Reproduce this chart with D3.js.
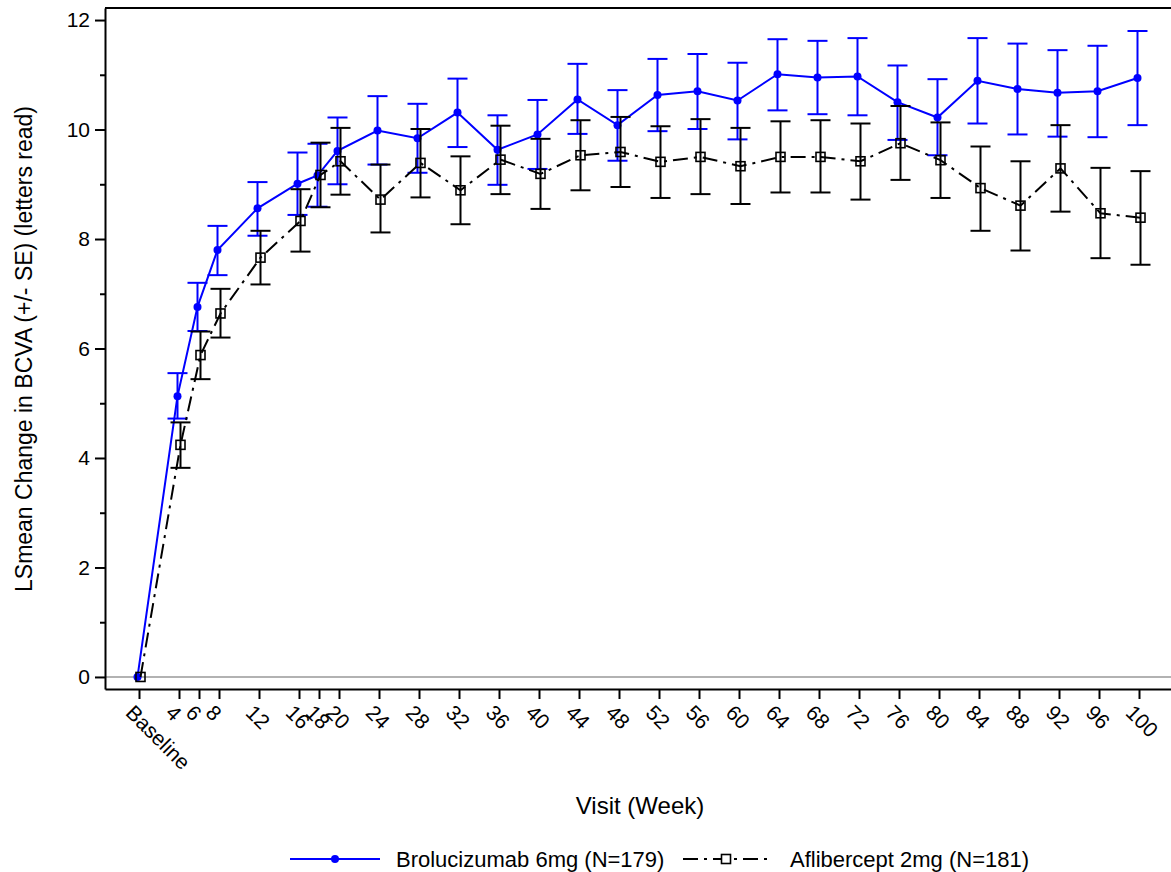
<!DOCTYPE html>
<html>
<head>
<meta charset="utf-8">
<script src="https://cdn.jsdelivr.net/npm/d3@7"></script>
<style>
  body { margin: 0; background: #fff; }
  svg { display: block; font-family: "Liberation Sans", Arial, sans-serif; }
  .axis path, .axis line { stroke: #000; stroke-width: 2; }
  .axis text { font-size: 21px; fill: #000; }
</style>
</head>
<body>
<svg width="1171" height="872"></svg>
<script>
// visit weeks, 0 = baseline
const weeks = [0, 4, 6, 8, 12, 16, 18, 20, 24, 28, 32, 36, 40, 44, 48, 52, 56, 60, 64, 68, 72, 76, 80, 84, 88, 92, 96, 100];

// Brolucizumab 6mg: LSmean, mean - SE, mean + SE
const broMean = [0, 5.13, 6.76, 7.80, 8.56, 9.01, 9.16, 9.61, 9.98, 9.84, 10.31, 9.63, 9.91, 10.55, 10.08, 10.63, 10.70, 10.53, 11.01, 10.95, 10.97, 10.50, 10.22, 10.89, 10.74, 10.67, 10.70, 10.94];
const broLow = [0, 4.72, 6.32, 7.34, 8.06, 8.44, 8.59, 9.00, 9.36, 9.21, 9.68, 8.99, 9.28, 9.92, 9.43, 9.97, 10.01, 9.82, 10.35, 10.28, 10.26, 9.81, 9.53, 10.11, 9.91, 9.87, 9.86, 10.08];
const broHigh = [0, 5.55, 7.20, 8.24, 9.04, 9.58, 9.74, 10.22, 10.61, 10.47, 10.93, 10.26, 10.54, 11.20, 10.72, 11.29, 11.38, 11.22, 11.65, 11.62, 11.67, 11.17, 10.92, 11.67, 11.57, 11.45, 11.53, 11.80];

// Aflibercept 2mg
const aflMean = [0, 4.24, 5.88, 6.64, 7.66, 8.33, 9.17, 9.42, 8.72, 9.39, 8.89, 9.45, 9.19, 9.53, 9.59, 9.41, 9.50, 9.33, 9.50, 9.50, 9.42, 9.75, 9.44, 8.93, 8.61, 9.29, 8.47, 8.39];
const aflLow = [0, 3.82, 5.44, 6.20, 7.17, 7.77, 8.58, 8.81, 8.12, 8.76, 8.27, 8.82, 8.55, 8.89, 8.95, 8.75, 8.82, 8.64, 8.85, 8.85, 8.72, 9.08, 8.75, 8.15, 7.79, 8.50, 7.65, 7.53];
const aflHigh = [0, 4.65, 6.31, 7.09, 8.15, 8.91, 9.76, 10.03, 9.36, 10.01, 9.51, 10.07, 9.83, 10.17, 10.23, 10.06, 10.19, 10.03, 10.15, 10.17, 10.11, 10.43, 10.13, 9.69, 9.42, 10.08, 9.30, 9.24];

const yTicks = [0, 2, 4, 6, 8, 10, 12];
const yMinor = [1, 3, 5, 7, 9, 11];

const series = [
    { name: 'Brolucizumab 6mg (N=179)', color: '#0000ff', dash: null, marker: 'circle', shift: -1.5,
      mean: broMean, low: broLow, high: broHigh },
    { name: 'Aflibercept 2mg (N=181)', color: '#000000', dash: '15,6,3,6', marker: 'square', shift: 1.5,
      mean: aflMean, low: aflLow, high: aflHigh }
];

const svg = d3.select('svg');

const x = d3.scaleLinear().domain([-3.4, 104]).range([105, 1179]);
const y = d3.scaleLinear().domain([-0.22, 12.22]).range([689, 8]);

// top frame line
svg.append('line')
    .attr('x1', 105).attr('x2', 1171)
    .attr('y1', y(12.22)).attr('y2', y(12.22))
    .attr('stroke', '#000').attr('stroke-width', 2);

// zero reference
svg.append('line')
    .attr('x1', 105).attr('x2', 1171)
    .attr('y1', y(0)).attr('y2', y(0))
    .attr('stroke', '#999').attr('stroke-width', 1.5);

// axes
svg.append('g')
    .attr('class', 'axis')
    .attr('transform', 'translate(105,0)')
    .call(d3.axisLeft(y).tickValues(yTicks).tickSize(10).tickSizeOuter(0).tickPadding(5));

svg.append('g')
    .attr('class', 'axis minor')
    .attr('transform', 'translate(105,0)')
    .call(d3.axisLeft(y).tickValues(yMinor).tickSize(5).tickSizeOuter(0).tickFormat(''))
    .select('.domain').remove();

const xAxisG = svg.append('g')
    .attr('class', 'axis')
    .attr('transform', 'translate(0,689)')
    .call(d3.axisBottom(x).tickValues(weeks).tickSize(10).tickSizeOuter(0)
        .tickFormat(d => d === 0 ? 'Baseline' : d));

xAxisG.selectAll('.tick text')
    .attr('text-anchor', 'start')
    .attr('dy', null)
    .attr('y', 0)
    .attr('transform', 'translate(-15,25) rotate(45)');

// axis labels
svg.append('text')
    .attr('x', 640).attr('y', 814)
    .attr('text-anchor', 'middle')
    .attr('font-size', 24)
    .text('Visit (Week)');

svg.append('text')
    .attr('transform', 'translate(32,349) rotate(-90)')
    .attr('text-anchor', 'middle')
    .attr('font-size', 23)
    .text('LSmean Change in BCVA (+/- SE) (letters read)');

// series
const line = d3.line();

series.forEach(s => {
    const g = svg.append('g');
    const px = weeks.map(w => x(w) + s.shift);

    // error bars
    weeks.forEach((w, i) => {
        if (s.high[i] === s.low[i]) return;
        const cx = px[i];
        g.append('line')
            .attr('x1', cx).attr('x2', cx)
            .attr('y1', y(s.low[i])).attr('y2', y(s.high[i]))
            .attr('stroke', s.color).attr('stroke-width', 2);
        [s.low[i], s.high[i]].forEach(v => {
            g.append('line')
                .attr('x1', cx - 10).attr('x2', cx + 10)
                .attr('y1', y(v)).attr('y2', y(v))
                .attr('stroke', s.color).attr('stroke-width', 2);
        });
    });

    g.append('path')
        .attr('d', line(weeks.map((w, i) => [px[i], y(s.mean[i])])))
        .attr('fill', 'none')
        .attr('stroke', s.color)
        .attr('stroke-width', 2)
        .attr('stroke-dasharray', s.dash);

    weeks.forEach((w, i) => {
        if (s.marker === 'circle') {
            g.append('circle')
                .attr('cx', px[i]).attr('cy', y(s.mean[i]))
                .attr('r', 4).attr('fill', s.color);
        } else {
            g.append('rect')
                .attr('x', px[i] - 4.5).attr('y', y(s.mean[i]) - 4.5)
                .attr('width', 9).attr('height', 9)
                .attr('fill', 'none').attr('stroke', s.color).attr('stroke-width', 1.6);
        }
    });
});

// legend
const legendY = 859;
const legendItems = [
    { s: series[0], x1: 290, x2: 380, mx: 335, tx: 396 },
    { s: series[1], x1: 683, x2: 767, mx: 726, tx: 790 }
];
legendItems.forEach(item => {
    const s = item.s;
    svg.append('line')
        .attr('x1', item.x1).attr('x2', item.x2)
        .attr('y1', legendY).attr('y2', legendY)
        .attr('stroke', s.color).attr('stroke-width', 2)
        .attr('stroke-dasharray', s.dash);
    if (s.marker === 'circle') {
        svg.append('circle').attr('cx', item.mx).attr('cy', legendY).attr('r', 4).attr('fill', s.color);
    } else {
        svg.append('rect')
            .attr('x', item.mx - 4.5).attr('y', legendY - 4.5)
            .attr('width', 9).attr('height', 9)
            .attr('fill', '#fff').attr('stroke', s.color).attr('stroke-width', 1.6);
    }
    svg.append('text')
        .attr('x', item.tx).attr('y', legendY + 8)
        .attr('font-size', 22)
        .text(s.name);
});
</script>
</body>
</html>
